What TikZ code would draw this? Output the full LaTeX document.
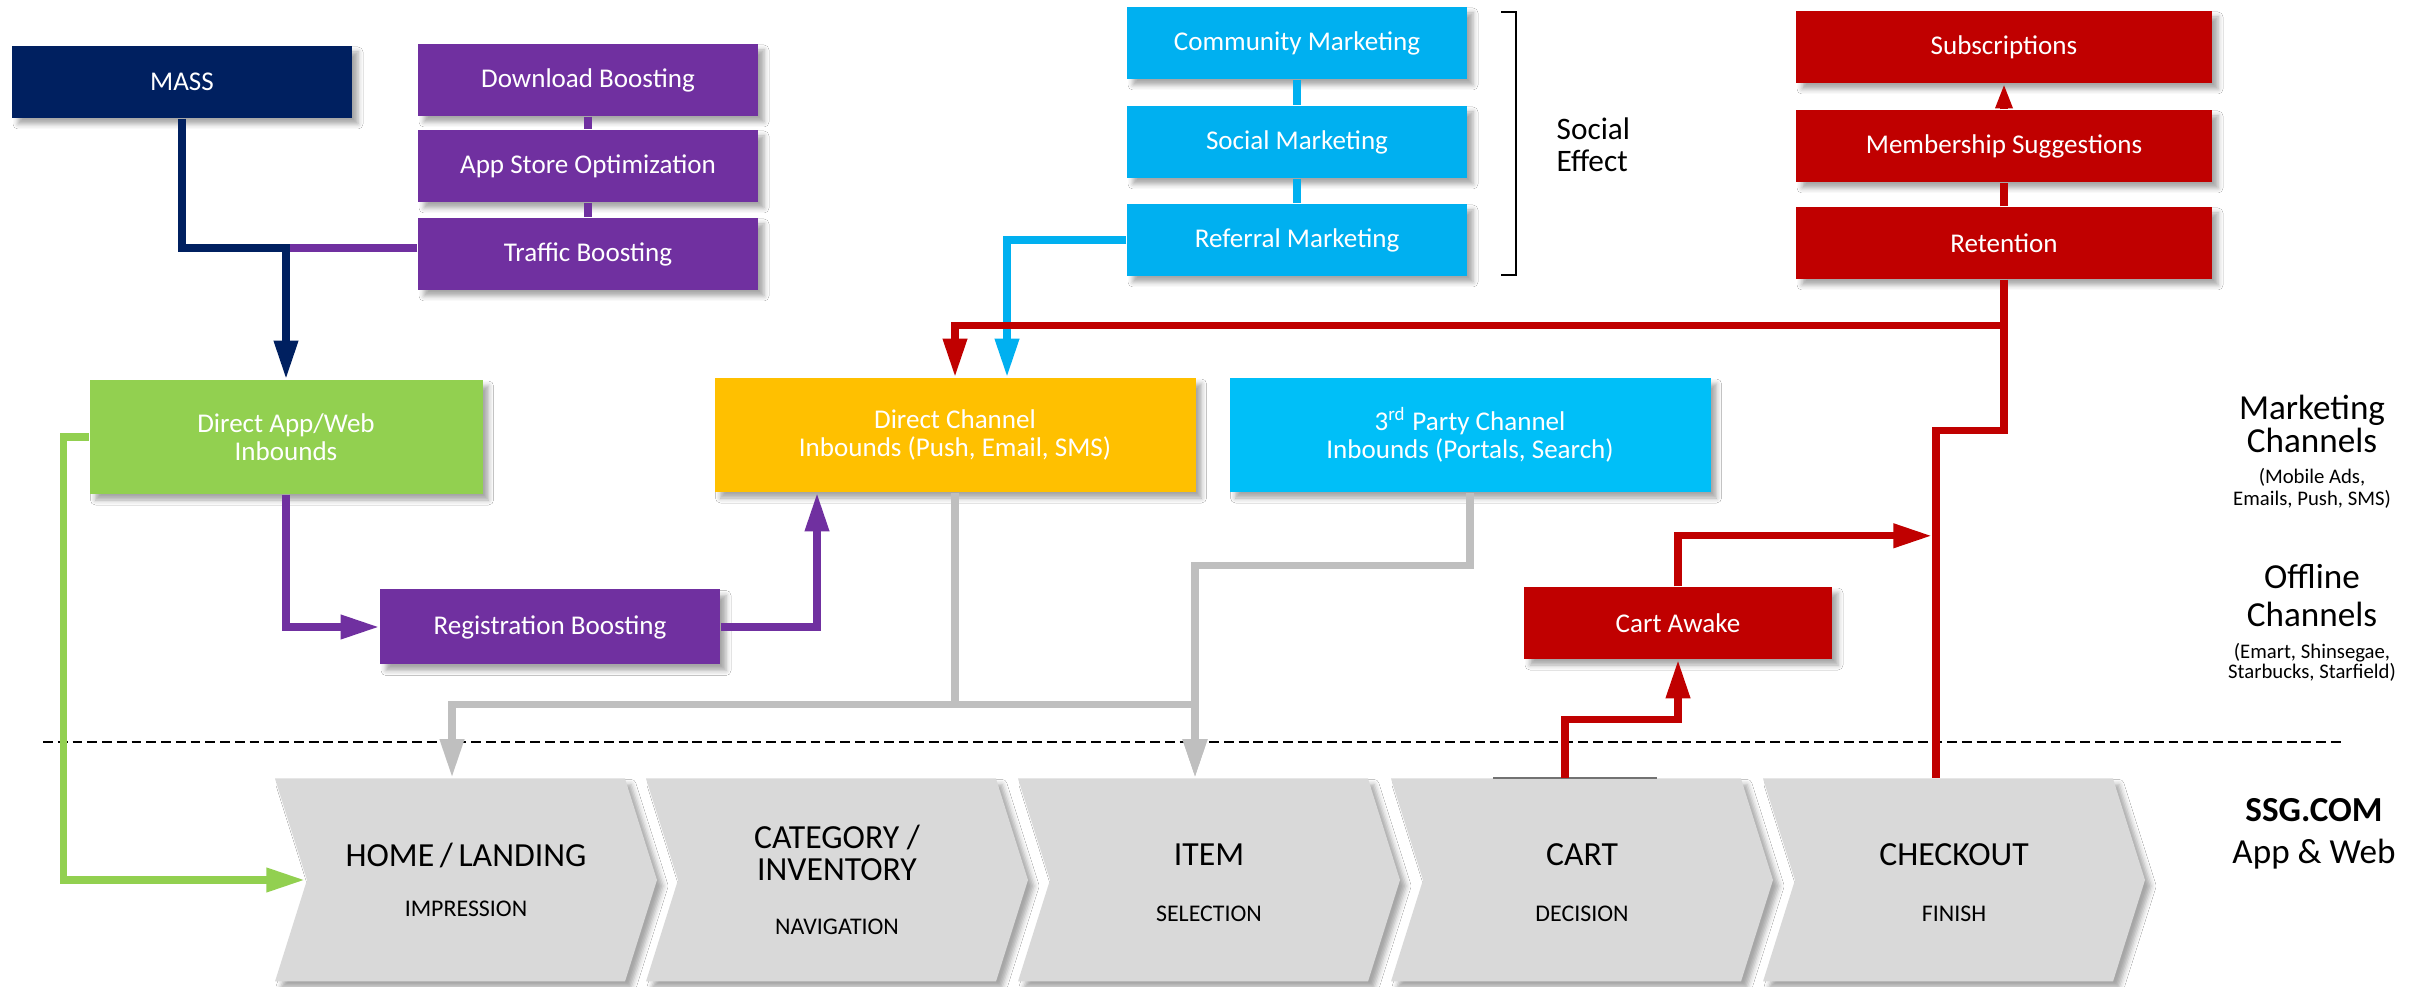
\documentclass[tikz,border=0pt]{standalone}
\usepackage{fontspec}
\setmainfont{Carlito}
\usetikzlibrary{arrows.meta, positioning, shapes.symbols, shadows.blur}
\definecolor{ssgnavy}{HTML}{002060}
\definecolor{ssgpurple}{HTML}{7030A0}
\definecolor{ssggreen}{HTML}{92D050}
\definecolor{ssggold}{HTML}{FFC000}
\definecolor{ssgblue}{HTML}{00B0F0}
\definecolor{ssgsky}{HTML}{00BFF8}
\definecolor{ssgred}{HTML}{C00000}
\definecolor{ssgstage}{HTML}{D9D9D9}
\definecolor{ssgline}{HTML}{BFBFBF}
\newcommand\stagesub{\fontsize{6.8}{8}\selectfont}
\newcommand\stagetop{\rule{0pt}{7.8pt}}

\begin{document}
\begin{tikzpicture}[x=0.1mm, y=-0.1mm,
  box/.style={minimum width=34mm, minimum height=7.2mm, inner sep=0pt,
              align=center, text=white, font=\fontsize{7.7}{8}\selectfont,
              blur shadow={shadow xshift=0.6mm, shadow yshift=-0.6mm,
                           shadow blur radius=0.5mm, shadow opacity=35}},
  widebox/.style={box, minimum width=48.1mm, minimum height=11.4mm},
  stage/.style={signal, signal to=east, signal from=west,
                signal pointer angle=145, fill=ssgstage,
                minimum width=38.2mm, minimum height=20.3mm, inner sep=0pt,
                align=center, font=\fontsize{9.6}{9.1}\selectfont,
                blur shadow={shadow xshift=0.6mm, shadow yshift=-0.6mm,
                             shadow blur radius=0.5mm, shadow opacity=35}},
  side/.style={align=center, inner sep=0pt},
  link/.style={line width=2.1pt},
  tip/.style={-{Triangle[length=11pt, width=6.5pt]}}]
  \fill[white] (0,0) rectangle (2425,987);
  \useasboundingbox (0,0) rectangle (2425,987);

  % Mass and boosting
  \node[box, fill=ssgnavy] (mass) at (182,82) {MASS};
  \node[box, fill=ssgpurple] (dlb) at (588,80) {Download Boosting};
  \node[box, fill=ssgpurple] (aso) at (588,166) {App Store Optimization};
  \node[box, fill=ssgpurple] (tfb) at (588,254) {Traffic Boosting};

  % Inbound channels
  \node[box, fill=ssggreen, minimum width=39.3mm, minimum height=11.4mm] (dai)
    at (286,437) {Direct App/Web\\Inbounds};
  \node[box, fill=ssgpurple, minimum height=7.5mm] (reg) at (550,627)
    {Registration Boosting};
  \node[widebox, fill=ssggold] (dch) at (955,435)
    {Direct Channel\\Inbounds (Push, Email, SMS)};
  \node[widebox, fill=ssgsky] (tpc) at (1470,435)
    {3\textsuperscript{rd} Party Channel\\Inbounds (Portals, Search)};

  % Social effect
  \node[box, fill=ssgblue] (cmm) at (1297,43) {Community Marketing};
  \node[box, fill=ssgblue] (scm) at (1297,142) {Social Marketing};
  \node[box, fill=ssgblue] (rfm) at (1297,240) {Referral Marketing};
  \draw[line width=0.4pt] (1501,12) -- (1516,12) -- (1516,275) -- (1501,275);
  \node[side, anchor=west, align=left, font=\fontsize{8.9}{9.1}\selectfont] (sfx)
    at (1556,145) {Social\\Effect};

  % Retention
  \node[box, fill=ssgred, minimum width=41.6mm] (sbs) at (2004,47) {Subscriptions};
  \node[box, fill=ssgred, minimum width=41.6mm] (mem) at (2004,146) {Membership Suggestions};
  \node[box, fill=ssgred, minimum width=41.6mm] (ret) at (2004,243) {Retention};
  \node[box, fill=ssgred, minimum width=30.8mm] (caw) at (1678,623) {Cart Awake};

  % Funnel stages
  \node[stage] (hom) at (466,880) {HOME\,/\,LANDING\\[5.2pt]{\stagesub IMPRESSION}};
  \node[stage] (cat) at (837,880) {CATEGORY /\\INVENTORY\\[6.3pt]{\stagesub NAVIGATION}};
  \node[stage] (itm) at (1209,880) {\stagetop ITEM\\[6.9pt]{\stagesub SELECTION}};
  \node[stage] (crt) at (1582,880) {\stagetop CART\\[6.9pt]{\stagesub DECISION}};
  \node[stage] (chk) at (1954,880) {\stagetop CHECKOUT\\[6.9pt]{\stagesub FINISH}};

  % Side labels
  \node[side, font=\fontsize{10}{9.4}\selectfont] (mkt) at (2312,424) {Marketing\\Channels};
  \node[side, font=\fontsize{5.9}{6.3}\selectfont] (mkts) at (2312,488)
    {(Mobile Ads,\\Emails, Push, SMS)};
  \node[side, font=\fontsize{10}{10.8}\selectfont] (off) at (2312,596) {Offline\\Channels};
  \node[side, font=\fontsize{5.9}{5.7}\selectfont] (offs) at (2312,662)
    {(Emart, Shinsegae,\\Starbucks, Starfield)};
  \node[side, font=\fontsize{10}{12}\selectfont] (ssg) at (2314,834)
    {\textbf{SSG.COM}\\App \& Web};

  % Divider
  \draw[dash pattern=on 2.8pt off 1.4pt, line width=0.75pt] (43,742) -- (2343,742);

  % Purple and navy connectors
  \draw[link, ssgpurple] (dlb) -- (aso);
  \draw[link, ssgpurple] (aso) -- (tfb);
  \draw[link, ssgpurple] ([yshift=0.6mm]tfb.west) -- ([yshift=0.6mm]tfb.west -| dai.north);
  \draw[link, tip, ssgnavy] (mass.south) |- ([yshift=0.6mm]tfb.west -| dai.north) -- (dai.north);
  \draw[link, tip, ssgpurple] (dai.south) |- (reg.west);
  \draw[link, tip, ssgpurple] (reg.east) -| ([xshift=-13.8mm]dch.south);
  \draw[link, tip, ssggreen] (dai.west) -- ++(-25,0) |- ([xshift=-16.1mm]hom.center);

  % Gray connectors
  \draw[link, tip, ssgline] (dch.south) -- ++(0,212) -| ([xshift=-1.4mm]hom.north);
  \draw[link, tip, ssgline] (dch.south) -- ++(0,212) -| ([xshift=-1.4mm]itm.north);
  \draw[link, tip, ssgline] (tpc.south) -- ++(0,73) -| ([xshift=-1.4mm]itm.north);

  % Blue connectors
  \draw[link, ssgblue] (cmm) -- (scm);
  \draw[link, ssgblue] (scm) -- (rfm);
  \draw[link, tip, ssgblue] (rfm.west) -| ([xshift=5.2mm]dch.north);

  % Red connectors
  \draw[link, ssgred] (ret) -- (mem);
  \draw[link, ssgred, -{Triangle[length=7pt, width=4.5pt]}] (mem) -- (sbs);
  \draw[link, tip, ssgred] (ret.south) -- ++(0,46) -| (dch.north);
  \draw[link, ssgred] ([xshift=-1.8mm]chk.north) |- ([yshift=-15.1mm]ret.south) -- (ret.south);
  \draw[ssgline!60!black, line width=0.6pt] ([xshift=-8.9mm]crt.north) -- ([xshift=7.5mm]crt.north);
  \draw[link, tip, ssgred] ([xshift=-1.7mm]crt.north) |- ([yshift=-6mm]caw.south) -- (caw.south);
  \draw[link, tip, ssgred] (caw.north) |- ([xshift=-2.2mm, yshift=24.2mm]chk.north);
\end{tikzpicture}
\end{document}
